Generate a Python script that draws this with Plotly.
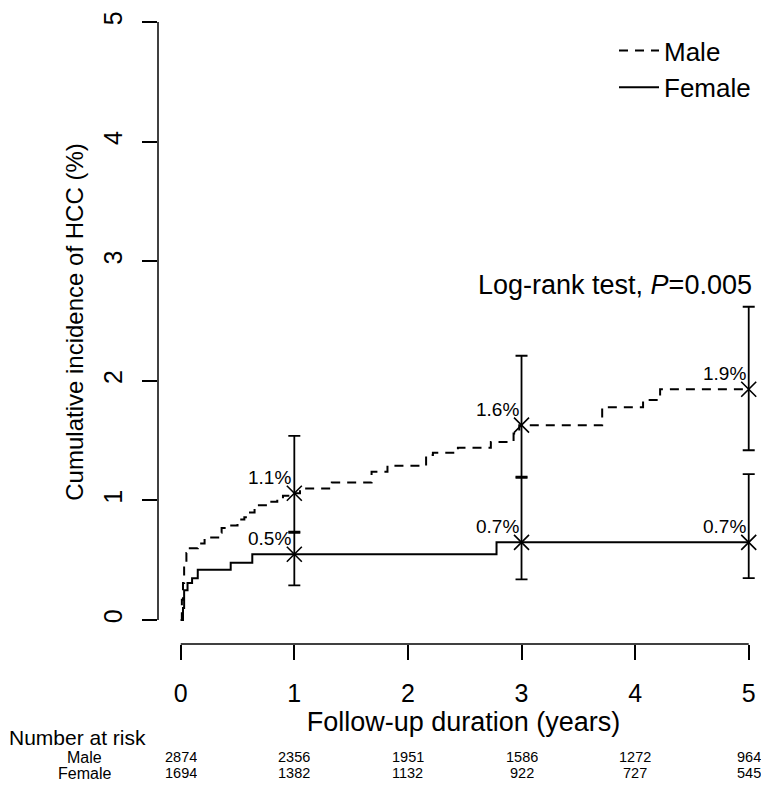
import plotly.graph_objects as go

# ---------------- data ----------------
male_t = [0, 0.01, 0.02, 0.03, 0.05, 0.08, 0.15, 0.21, 0.25, 0.33, 0.36, 0.42, 0.50, 0.56,
          0.61, 0.65, 0.76, 0.85, 0.90, 0.98, 1.05, 1.33, 1.68, 1.82, 2.16, 2.22, 2.44, 2.73,
          2.93, 2.98, 3.71, 4.07, 4.22, 5.0]
male_ci = [0, 0.17, 0.31, 0.44, 0.56, 0.60, 0.64, 0.67, 0.69, 0.73, 0.77, 0.79, 0.84, 0.86,
           0.90, 0.96, 0.99, 1.01, 1.04, 1.06, 1.10, 1.15, 1.24, 1.29, 1.38, 1.40, 1.44, 1.49,
           1.56, 1.63, 1.78, 1.84, 1.93, 1.93]

fem_t = [0, 0.02, 0.03, 0.06, 0.10, 0.15, 0.44, 0.63, 2.78, 5.0]
fem_ci = [0, 0.10, 0.25, 0.31, 0.35, 0.42, 0.48, 0.55, 0.65, 0.65]

ci_t = [1, 3, 5]
male_pt = [1.06, 1.63, 1.93]
male_lo = [0.73, 1.20, 1.42]
male_hi = [1.54, 2.21, 2.62]
male_lab = ["1.1%", "1.6%", "1.9%"]
fem_pt = [0.55, 0.65, 0.65]
fem_lo = [0.29, 0.34, 0.35]
fem_hi = [0.74, 1.19, 1.22]
fem_lab = ["0.5%", "0.7%", "0.7%"]

risk_t = [0, 1, 2, 3, 4, 5]
risk_groups = ["Male", "Female"]
male_risk = [2874, 2356, 1951, 1586, 1272, 964]
fem_risk = [1694, 1382, 1132, 922, 727, 545]

x_ticks = [0, 1, 2, 3, 4, 5]
y_ticks = [0, 1, 2, 3, 4, 5]

# ---------------- figure ----------------
FONT = "Liberation Sans, Arial, sans-serif"
W, H = 769, 787
ML, MR, MT, MB = 158, 0, 0, 143
PW, PH = W - ML - MR, H - MT - MB
px_per_x = 113.6
px_per_y = 119.6
x_range = [-0.2, -0.2 + PW / px_per_x]
y_range = [-0.2, -0.2 + PH / px_per_y]


def px2paper_x(px):
    return (px - ML) / PW


def py2paper(py):
    return (H - MB - py) / PH


fig = go.Figure()

fig.add_trace(go.Scatter(x=male_t, y=male_ci, mode="lines", line_shape="hv", name="Male",
                         line=dict(color="black", width=2, dash="9px,7px")))
fig.add_trace(go.Scatter(x=fem_t, y=fem_ci, mode="lines", line_shape="hv", name="Female",
                         line=dict(color="black", width=2)))

for pt, lo, hi in [(male_pt, male_lo, male_hi), (fem_pt, fem_lo, fem_hi)]:
    fig.add_trace(go.Scatter(
        x=ci_t, y=pt, mode="markers", showlegend=False,
        marker=dict(symbol="x-thin", size=15, line=dict(color="black", width=1.6), color="black"),
        error_y=dict(type="data", symmetric=False,
                     array=[h - p for h, p in zip(hi, pt)],
                     arrayminus=[p - l for p, l in zip(pt, lo)],
                     color="black", thickness=1.8, width=6)))

annotations = []
for xs, ys, labs in [(ci_t, male_pt, male_lab), (ci_t, fem_pt, fem_lab)]:
    for x, y, t in zip(xs, ys, labs):
        annotations.append(dict(x=x, y=y, xref="x", yref="y", text=t, showarrow=False,
                                xanchor="right", yanchor="bottom", xshift=-1, yshift=3,
                                font=dict(family=FONT, size=19, color="black")))

annotations.append(dict(x=5, y=2.80, xref="x", yref="y",
                        text="Log-rank test, <i>P</i>=0.005", showarrow=False,
                        xanchor="right", yanchor="middle", xshift=5,
                        font=dict(family=FONT, size=27, color="black")))

# number at risk table
annotations.append(dict(x=px2paper_x(8), y=py2paper(737), xref="paper", yref="paper",
                        text="Number at risk", showarrow=False, xanchor="left", yanchor="middle",
                        height=20, valign="middle", borderpad=0,
                        font=dict(family=FONT, size=21, color="black")))
row_py = [756.5, 773]
for name, py in zip(risk_groups, row_py):
    annotations.append(dict(x=px2paper_x(84), y=py2paper(py), xref="paper", yref="paper",
                            text=name, showarrow=False, xanchor="center", yanchor="middle",
                            height=16, valign="middle", borderpad=0,
                            font=dict(family=FONT, size=16, color="black")))
for row, py in zip([male_risk, fem_risk], row_py):
    for t, n in zip(risk_t, row):
        annotations.append(dict(x=t, y=py2paper(py), xref="x", yref="paper",
                                text=str(n), showarrow=False, xanchor="center",
                                yanchor="middle", height=16, valign="middle", borderpad=0,
                                font=dict(family=FONT, size=14.5, color="black")))

shapes = [
    dict(type="line", xref="x", yref="paper", x0=0, x1=5, y0=0, y1=0,
         line=dict(color="black", width=1.5)),
    dict(type="line", xref="paper", yref="y", x0=0, x1=0, y0=0, y1=5,
         line=dict(color="black", width=1.5)),
]

fig.update_layout(
    width=W, height=H,
    margin=dict(l=ML, r=MR, t=MT, b=MB, pad=0),
    paper_bgcolor="white", plot_bgcolor="white",
    font=dict(family=FONT, size=24, color="black"),
    showlegend=True,
    legend=dict(x=px2paper_x(614), y=py2paper(27), xanchor="left", yanchor="top",
                bgcolor="rgba(0,0,0,0)", font=dict(family=FONT, size=26),
                tracegroupgap=0, itemwidth=40),
    annotations=annotations,
    shapes=shapes,
    xaxis=dict(range=x_range, tickvals=x_ticks, ticktext=[str(v) for v in x_ticks],
               showgrid=False, zeroline=False, showline=False,
               ticks="outside", ticklen=15, tickwidth=1.5, tickcolor="black",
               ticklabelstandoff=12, tickfont=dict(family=FONT, size=25),
               title=dict(text="Follow-up duration (years)", standoff=6,
                          font=dict(family=FONT, size=27))),
    yaxis=dict(range=y_range, tickvals=y_ticks, ticktext=[str(v) for v in y_ticks],
               showgrid=False, zeroline=False, showline=False,
               ticks="outside", ticklen=15, tickwidth=1.5, tickcolor="black",
               tickangle=-90, ticklabelstandoff=10, tickfont=dict(family=FONT, size=25),
               title=dict(text="Cumulative incidence of HCC (%)", standoff=8,
                          font=dict(family=FONT, size=24))),
)

fig.write_html("out.html")
